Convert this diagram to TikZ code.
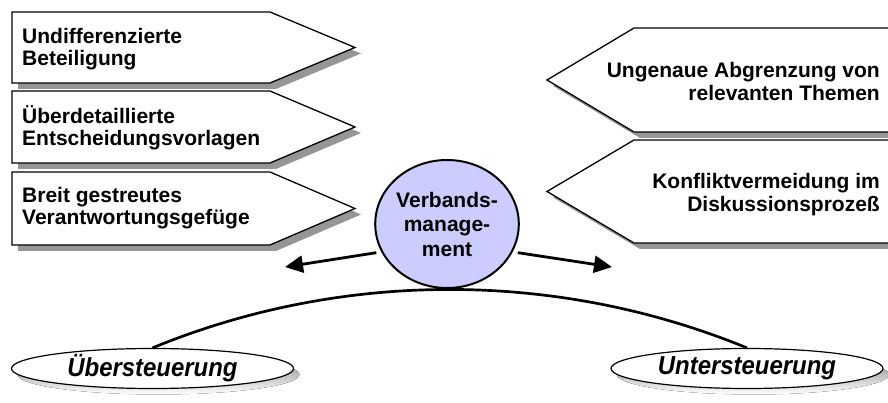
\documentclass[tikz,border=0pt]{standalone}
\usepackage{fontspec}
\setmainfont{Liberation Sans}
\newfontfamily\ovalfont[FakeStretch=0.92]{Liberation Sans}
\usetikzlibrary{shapes.geometric,arrows.meta}
\definecolor{shade}{RGB}{150,150,150}
\definecolor{lav}{RGB}{204,204,255}
\begin{document}
\begin{tikzpicture}[x=1pt,y=-1pt,
  boxline/.style={draw=black,line width=1.3pt,fill=white,line join=miter},
  boxshadow/.style={fill=shade,draw=none},
  lefttext/.style={anchor=west,align=left,inner sep=0pt,font=\fontsize{21}{22.5}\selectfont\bfseries},
  righttext/.style={anchor=east,align=right,inner sep=0pt,font=\fontsize{21}{23}\selectfont\bfseries},
  oval/.style={ellipse,draw=black,line width=1.2pt,fill=white,inner sep=0pt,minimum height=40pt,font=\ovalfont\fontsize{26}{28}\selectfont\bfseries\itshape},
  center/.style={ellipse,draw=black,line width=2pt,fill=lav,inner sep=0pt,minimum width=138pt,minimum height=128pt,align=center,font=\fontsize{21}{24.5}\selectfont\bfseries},
  bigarrow/.style={line width=2.8pt,-{Triangle[length=18pt,width=17pt]}},
  arcline/.style={line width=2.7pt}]
\useasboundingbox (0,0) rectangle (888,403);
\clip (0,0) rectangle (888,403);

% left boxes
\fill[boxshadow] (18,18) -- (276,18) -- (361,53.5) -- (276,89) -- (18,89) -- cycle;
\draw[boxline] (12,12) -- (270,12) -- (355,47.5) -- (270,83) -- (12,83) -- cycle;
\fill[boxshadow] (18,97) -- (276,97) -- (361,133) -- (276,169) -- (18,169) -- cycle;
\draw[boxline] (12,91) -- (270,91) -- (355,127) -- (270,163) -- (12,163) -- cycle;
\fill[boxshadow] (18,178) -- (276,178) -- (361,214.5) -- (276,251) -- (18,251) -- cycle;
\draw[boxline] (12,172) -- (270,172) -- (355,208.5) -- (270,245) -- (12,245) -- cycle;

\node[lefttext] (l1) at (22,49) {Undifferenzierte\\Beteiligung};
\node[lefttext] (l2) at (22,128) {Überdetaillierte\\Entscheidungsvorlagen};
\node[lefttext] (l3) at (22,208) {Breit gestreutes\\Verantwortungsgefüge};

% right boxes
\fill[boxshadow] (906,34) -- (640,34) -- (553,86) -- (640,138) -- (906,138) -- cycle;
\draw[boxline] (900,28) -- (634,28) -- (547,80) -- (634,132) -- (900,132) -- cycle;
\fill[boxshadow] (906,146) -- (640,146) -- (553,197.5) -- (640,249) -- (906,249) -- cycle;
\draw[boxline] (900,140) -- (634,140) -- (547,191.5) -- (634,243) -- (900,243) -- cycle;

\node[righttext] (r1) at (880,81) {Ungenaue Abgrenzung von\\relevanten Themen};
\node[righttext] (r2) at (880,195) {Konfliktvermeidung im\\Diskussionsprozeß};

% lower ovals
\fill[shade] (158.5,374.5) ellipse [x radius=141pt, y radius=20pt];
\fill[shade] (753,374.5) ellipse [x radius=136pt, y radius=20pt];
\node[oval,minimum width=282pt] (ub) at (152.5,368.5) {Übersteuerung};
\node[oval,minimum width=272pt] (un) at (747,368.5) {Untersteuerung};

% arc
\draw[arcline] (ub.north) .. controls (342,270) and (557,270) .. (un.north);

% centre
\node[center] (vm) at (447,224) {Verbands-\\manage-\\ment};

\coordinate (la) at (285,267);
\coordinate (ra) at (612,267);
\draw[bigarrow,shorten <=5pt] (vm.203) -- (la);
\draw[bigarrow,shorten <=5pt] (vm.337) -- (ra);
\end{tikzpicture}
\end{document}
